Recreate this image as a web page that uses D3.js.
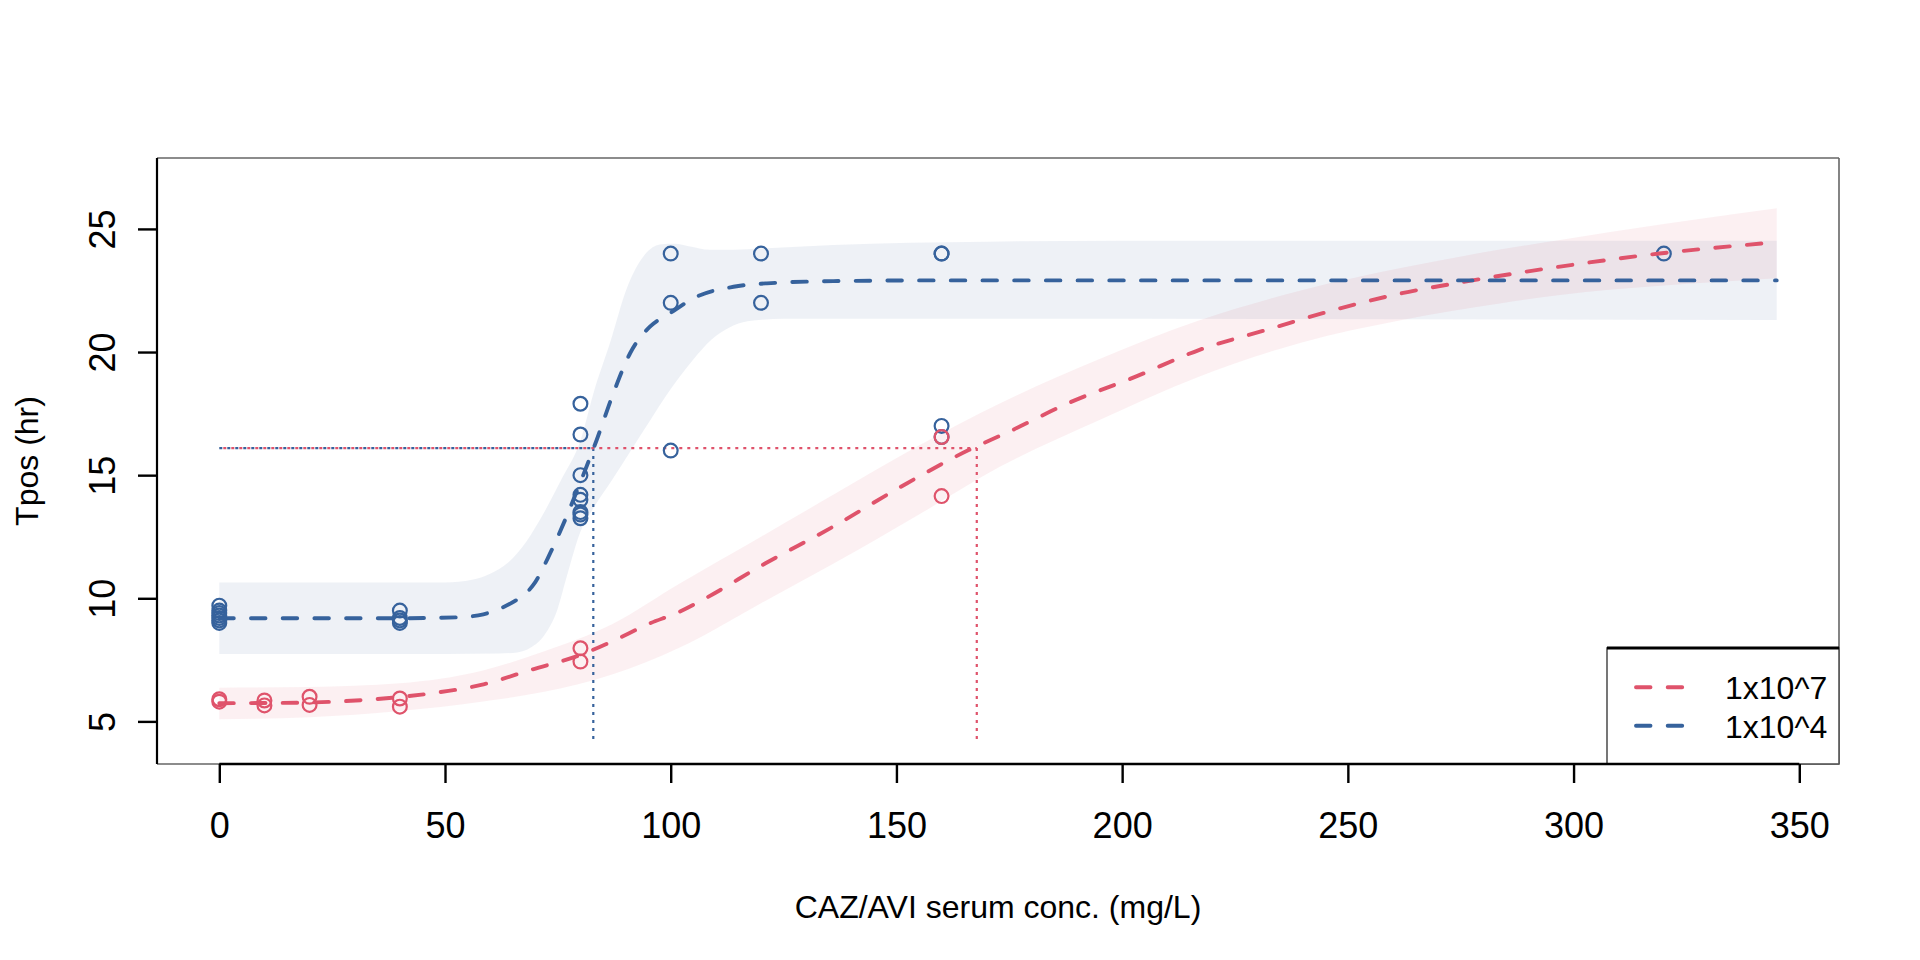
<!DOCTYPE html>
<html><head><meta charset="utf-8">
<script src="https://cdn.jsdelivr.net/npm/d3@7"></script>
<style>body{margin:0;background:#fff}svg{display:block}text{font-family:"Liberation Sans",Arial,sans-serif;fill:#000}</style>
</head><body><svg id="c" width="1920" height="960"></svg>
<script>
// ---------------- data ----------------
const xTicks = [0, 50, 100, 150, 200, 250, 300, 350];
const yTicks = [5, 10, 15, 20, 25];
const seriesNames = ["1x10^7", "1x10^4"];

// observed points, inoculum 1x10^7
const ptsX7 = [0, 0, 10, 10, 20, 20, 40, 40, 80, 80, 160, 160];
const ptsY7 = [5.9, 5.8, 5.85, 5.65, 6.0, 5.67, 5.93, 5.6, 7.97, 7.43, 16.55, 14.15];
// observed points, inoculum 1x10^4
const ptsX4 = [0, 0, 0, 0, 0, 0, 0, 40, 40, 40, 40, 80, 80, 80, 80, 80, 80, 80, 80, 100, 100, 100, 120, 120, 160, 160, 160, 160, 320];
const ptsY4 = [9.0, 9.1, 9.2, 9.3, 9.4, 9.5, 9.7, 9.5, 9.2, 9.1, 9.0, 17.9, 16.65, 15.0, 14.2, 14.0, 13.5, 13.4, 13.25, 24, 22, 16, 24, 22, 24, 24, 17.0, 16.55, 24];

// fitted curve 1x10^7
const fitX7 = [0, 13, 25, 37, 47, 58, 69, 80, 87, 95, 102, 107, 121, 136, 151, 166, 175, 188, 203, 217, 232, 247, 262, 276, 297, 319, 345];
const fitY7 = [5.74, 5.75, 5.80, 5.94, 6.14, 6.48, 7.09, 7.70, 8.25, 8.95, 9.46, 9.93, 11.42, 12.91, 14.53, 16.02, 16.77, 17.92, 19.0, 20.08, 20.9, 21.71, 22.39, 22.86, 23.47, 24.0, 24.46];
// confidence band 1x10^7
const bandUpX7 = [0, 20, 40, 58, 72, 87, 102, 120, 136, 155, 173, 195, 217, 240, 262, 284, 297, 320, 345];
const bandUpY7 = [6.37, 6.40, 6.55, 7.05, 7.85, 8.95, 10.6, 12.5, 14.2, 16.2, 17.92, 19.72, 21.28, 22.52, 23.42, 24.17, 24.55, 25.2, 25.84];
const bandLoX7 = [0, 20, 40, 58, 72, 87, 102, 120, 136, 155, 173, 195, 217, 240, 262, 284, 297, 320, 345];
const bandLoY7 = [5.09, 5.17, 5.42, 5.8, 6.2, 6.9, 8.0, 9.8, 11.4, 13.4, 15.35, 17.24, 19.0, 20.4, 21.3, 21.98, 22.32, 22.7, 23.0];

// fitted curve 1x10^4
const fitX4 = [0, 40, 53, 58.5, 63, 66, 69.6, 73.3, 76.6, 79.9, 83.6, 87.3, 91, 95.4, 99.8, 105.8, 113.9, 121.3, 136, 160, 345];
const fitY4 = [9.19, 9.19, 9.23, 9.35, 9.65, 9.95, 10.55, 11.83, 13.18, 14.67, 16.43, 18.33, 19.95, 21.03, 21.57, 22.25, 22.65, 22.79, 22.88, 22.91, 22.91];
// confidence band 1x10^4
const bandUpX4 = [0, 50, 56, 60, 64, 68, 72, 76, 80, 83, 86.6, 90.3, 94.7, 98, 101, 104, 108.7, 114, 120, 136, 170, 200, 345];
const bandUpY4 = [10.64, 10.64, 10.75, 11.0, 11.45, 12.3, 13.5, 14.9, 16.4, 18.4, 20.4, 22.6, 24.05, 24.38, 24.4, 24.3, 24.15, 24.15, 24.2, 24.35, 24.48, 24.52, 24.52];
const bandLoX4 = [0, 50, 62, 66, 69, 72, 75, 77, 80, 83, 87, 91, 95, 100, 105, 109, 113, 117, 125, 140, 345];
const bandLoY4 = [7.74, 7.74, 7.76, 7.8, 8.0, 8.5, 9.6, 10.9, 12.7, 13.7, 14.8, 15.95, 17.1, 18.5, 19.7, 20.5, 21.0, 21.25, 21.35, 21.35, 21.3];

// reference lines (Tpos threshold and crossing concentrations)
const refY = 16.1;
const refFloor = 4.2;
const crossX7 = 167.8;
const crossX4 = 82.85;

// ---------------- drawing ----------------
const RED = "#DF536B", BLUE = "#36629C";
const svg = d3.select("#c");
svg.append("rect").attr("width", 1920).attr("height", 960).attr("fill", "#fff");
const L = 157, R = 1839, T = 158, B = 764;
const x = d3.scaleLinear().domain([-13.8, 358.8]).range([L, R]);
const y = d3.scaleLinear().domain([3.27, 27.88]).range([B, T]);

const zip = (xs, ys) => xs.map((v, i) => [v, ys[i]]);
const line = d3.line().x(d => x(d[0])).y(d => y(d[1])).curve(d3.curveMonotoneX);

function band(upX, upY, loX, loY) {
  const up = line(zip(upX, upY));
  const lo = line(zip(loX, loY).reverse());
  return up + "L" + lo.slice(1) + "Z";
}

const plot = svg.append("g");
plot.append("path").attr("d", band(bandUpX4, bandUpY4, bandLoX4, bandLoY4)).attr("fill", BLUE).attr("fill-opacity", 0.085);
plot.append("path").attr("d", band(bandUpX7, bandUpY7, bandLoX7, bandLoY7)).attr("fill", RED).attr("fill-opacity", 0.085);

// dotted reference lines
const dot = (g, x1, y1, x2, y2, col, off) => g.append("line")
  .attr("x1", x(x1)).attr("y1", y(y1)).attr("x2", x(x2)).attr("y2", y(y2))
  .attr("stroke", col).attr("stroke-width", 2.2).attr("stroke-dasharray", "3 5").attr("stroke-dashoffset", off);
dot(plot, 0, refY, crossX4, refY, BLUE, 0);
dot(plot, crossX4, refY, crossX4, refFloor, BLUE, 0);
dot(plot, 0, refY, crossX7, refY, RED, 4);
dot(plot, crossX7, refY, crossX7, refFloor, RED, 0);

// points
plot.selectAll("circle.p4").data(zip(ptsX4, ptsY4)).join("circle")
  .attr("cx", d => x(d[0])).attr("cy", d => y(d[1])).attr("r", 6.9)
  .attr("fill", "none").attr("stroke", BLUE).attr("stroke-width", 2.2);
plot.selectAll("circle.p7").data(zip(ptsX7, ptsY7)).join("circle")
  .attr("cx", d => x(d[0])).attr("cy", d => y(d[1])).attr("r", 6.9)
  .attr("fill", "none").attr("stroke", RED).attr("stroke-width", 2.2);

// fitted curves
const dash = "14.5 17.2";
plot.append("path").attr("d", line(zip(fitX7, fitY7))).attr("fill", "none").attr("stroke", RED)
  .attr("stroke-width", 3.9).attr("stroke-dasharray", dash).attr("stroke-linecap", "round");
plot.append("path").attr("d", line(zip(fitX4, fitY4))).attr("fill", "none").attr("stroke", BLUE)
  .attr("stroke-width", 3.9).attr("stroke-dasharray", dash).attr("stroke-linecap", "round");

// box
svg.append("line").attr("x1", L).attr("x2", R).attr("y1", T).attr("y2", T).attr("stroke", "#666").attr("stroke-width", 1.6);
svg.append("line").attr("x1", R).attr("x2", R).attr("y1", T).attr("y2", B).attr("stroke", "#666").attr("stroke-width", 1.6);
svg.append("line").attr("x1", L).attr("x2", R).attr("y1", B).attr("y2", B).attr("stroke", "#666").attr("stroke-width", 1.6);
svg.append("line").attr("x1", L).attr("x2", L).attr("y1", T).attr("y2", B).attr("stroke", "#000").attr("stroke-width", 2.2);

// legend
const lg = svg.append("g");
lg.append("rect").attr("x", 1607).attr("y", 648).attr("width", R - 1607).attr("height", B - 648)
  .attr("fill", "#fff").attr("stroke", "#555").attr("stroke-width", 1.6);
lg.append("line").attr("x1", 1607).attr("x2", R).attr("y1", 648).attr("y2", 648).attr("stroke", "#000").attr("stroke-width", 3);
[[RED, 687.3, 698.5], [BLUE, 725.7, 737.5]].forEach((e, i) => {
  lg.append("line").attr("x1", 1636).attr("x2", 1686).attr("y1", e[1]).attr("y2", e[1])
    .attr("stroke", e[0]).attr("stroke-width", 3.9).attr("stroke-dasharray", dash).attr("stroke-linecap", "round");
  lg.append("text").attr("x", 1725).attr("y", e[2]).attr("font-size", 32).text(seriesNames[i]);
});

// x axis
const xa = svg.append("g").attr("transform", `translate(0,${B})`)
  .call(d3.axisBottom(x).tickValues(xTicks).tickSize(19).tickSizeOuter(0).tickPadding(29));
xa.select(".domain").remove();
xa.selectAll(".tick line").attr("stroke", "#000").attr("stroke-width", 2.4);
xa.selectAll(".tick text").attr("font-size", 36).attr("font-family", '"Liberation Sans",Arial,sans-serif').attr("fill", "#000");
xa.append("line").attr("x1", x(xTicks[0])).attr("x2", x(xTicks[xTicks.length - 1])).attr("stroke", "#000").attr("stroke-width", 2.6);

// y axis
const ya = svg.append("g").attr("transform", `translate(${L},0)`)
  .call(d3.axisLeft(y).tickValues(yTicks).tickSize(19).tickSizeOuter(0));
ya.select(".domain").remove();
ya.selectAll(".tick line").attr("stroke", "#000").attr("stroke-width", 2.4);
ya.selectAll(".tick text").attr("font-size", 36).attr("font-family", '"Liberation Sans",Arial,sans-serif').attr("fill", "#000")
  .attr("x", 0).attr("dy", 0).attr("text-anchor", "middle").attr("transform", "translate(-42.5,0) rotate(-90)");

// axis titles
svg.append("text").attr("x", (L + R) / 2).attr("y", 917.5).attr("text-anchor", "middle").attr("font-size", 32)
  .text("CAZ/AVI serum conc. (mg/L)");
svg.append("text").attr("transform", `translate(38,${(T + B) / 2}) rotate(-90)`).attr("text-anchor", "middle").attr("font-size", 32)
  .text("Tpos (hr)");
</script></body></html>
